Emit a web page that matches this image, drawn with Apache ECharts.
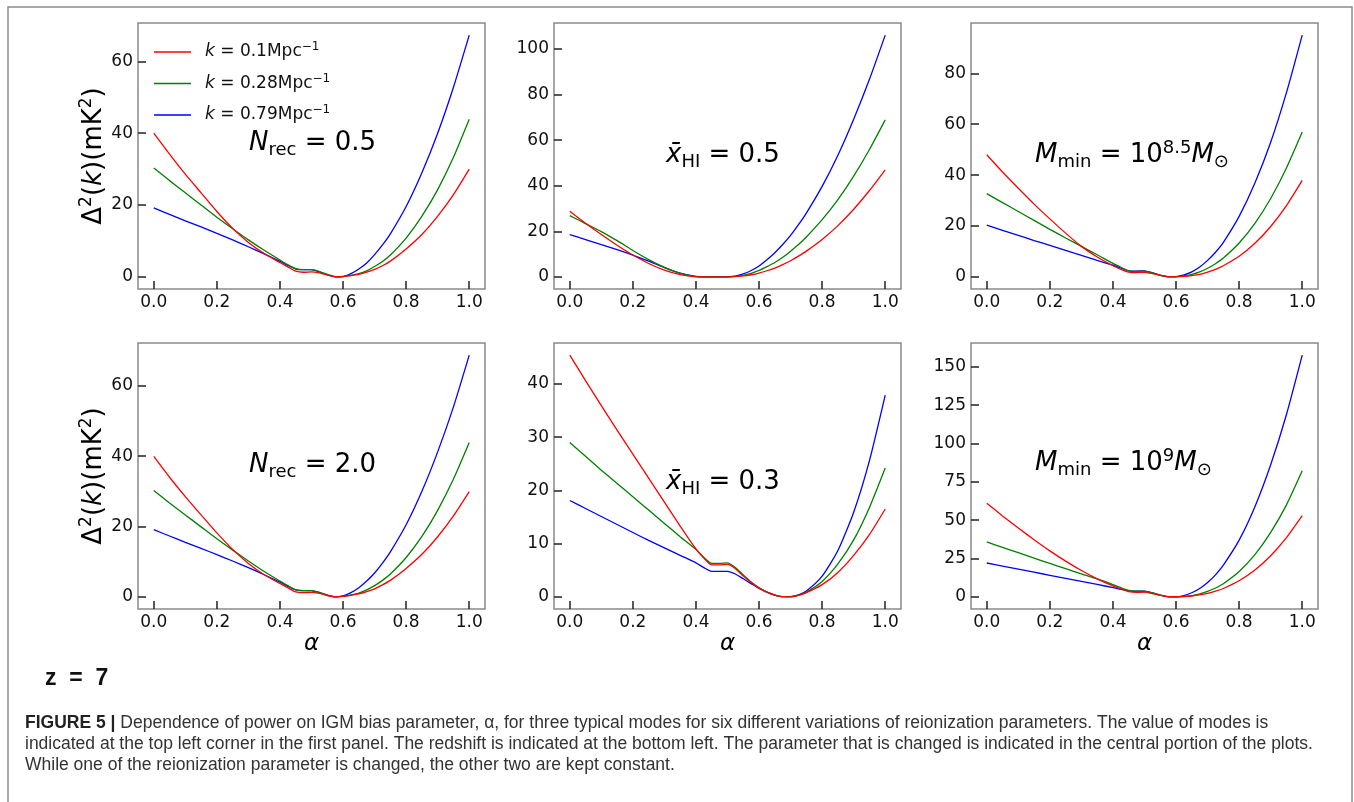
<!DOCTYPE html>
<html>
<head>
<meta charset="utf-8">
<title>Figure 5</title>
<script src="https://cdn.jsdelivr.net/npm/echarts@6/dist/echarts.min.js"></script>
<style>
    html, body { margin: 0; padding: 0; background: #fff; }
    #chart { width: 1354px; height: 802px; }
</style>
</head>
<body>
<div id="chart"></div>
<script>
// α 取样点（横轴）
const alphaValues = [0, 0.05, 0.1, 0.15, 0.2, 0.25, 0.3, 0.35, 0.4, 0.425, 0.45, 0.475, 0.5, 0.525,
    0.55, 0.575, 0.6, 0.625, 0.65, 0.675, 0.7, 0.725, 0.75, 0.8, 0.85, 0.9, 0.95, 1.0]

// 刻度
const xTicks = [0, 0.2, 0.4, 0.6, 0.8, 1.0]
const yTicksNrec05 = [0, 20, 40, 60]
const yTicksXhi05 = [0, 20, 40, 60, 80, 100]
const yTicksMmin85 = [0, 20, 40, 60, 80]
const yTicksNrec20 = [0, 20, 40, 60]
const yTicksXhi03 = [0, 10, 20, 30, 40]
const yTicksMmin9 = [0, 25, 50, 75, 100, 125, 150]

// 三个模式
const modeNames = ['k = 0.1Mpc^-1', 'k = 0.28Mpc^-1', 'k = 0.79Mpc^-1']

// N_rec = 0.5
const nrec05Red = [40.0, 34.2, 28.6, 23.4, 18.2, 13.5, 9.6, 6.5, 4.0, 2.8, 1.6, 1.3, 1.4, 1.1,
    0.5, 0.05, 0.1, 0.35, 0.7, 1.3, 2.1, 3.1, 4.4, 7.8, 11.8, 16.9, 22.9, 30.0]
const nrec05Green = [30.3, 26.8, 23.4, 20.0, 16.6, 13.4, 10.3, 7.4, 4.7, 3.4, 2.3, 2.0, 2.0, 1.5,
    0.7, 0.1, 0.15, 0.45, 0.9, 1.7, 2.9, 4.3, 6.1, 10.8, 16.9, 24.3, 33.3, 43.9]
const nrec05Blue = [19.2, 17.4, 15.6, 13.9, 12.1, 10.3, 8.4, 6.4, 4.3, 3.2, 2.2, 2.0, 2.0, 1.4,
    0.6, 0.05, 0.1, 0.9, 2.2, 3.9, 6.2, 8.9, 12.0, 19.6, 29.0, 40.0, 52.8, 67.3]

// x_HI = 0.5
const xhi05Red = [28.8, 23.5, 18.6, 13.9, 9.6, 5.9, 3.0, 1.0, 0.05, 0, 0, 0, 0.05, 0.15,
    0.41, 0.95, 1.7, 2.7, 3.9, 5.4, 7.1, 9.1, 11.3, 16.4, 22.5, 29.7, 37.9, 47.0]
const xhi05Green = [26.9, 23.4, 19.9, 15.9, 11.6, 7.6, 4.2, 1.6, 0.15, 0, 0, 0, 0.05, 0.2,
    0.72, 1.6, 2.85, 4.5, 6.3, 8.6, 11.3, 14.2, 17.5, 25.1, 33.9, 44.2, 55.9, 68.9]
const xhi05Blue = [18.5, 16.4, 14.2, 12.0, 9.6, 6.9, 4.1, 1.7, 0.25, 0.05, 0, 0, 0.05, 0.35,
    1.3, 2.8, 4.8, 7.5, 10.6, 14.2, 18.2, 22.9, 28.0, 39.7, 53.4, 69.2, 86.7, 106.1]

// M_min = 10^8.5
const mmin85Red = [48.0, 41.2, 34.8, 28.6, 22.8, 17.2, 12.0, 7.8, 4.4, 3.0, 1.9, 1.7, 1.8, 1.3,
    0.6, 0.1, 0.05, 0.18, 0.5, 1.0, 1.9, 3.0, 4.4, 8.1, 13.2, 19.8, 28.0, 37.9]
const mmin85Green = [32.7, 29.2, 25.7, 22.2, 18.7, 15.3, 12.0, 8.7, 5.3, 3.8, 2.4, 2.2, 2.3, 1.6,
    0.7, 0.1, 0.1, 0.37, 1.0, 2.0, 3.4, 5.2, 7.4, 13.3, 21.0, 30.8, 42.8, 56.9]
const mmin85Blue = [20.3, 18.3, 16.3, 14.3, 12.4, 10.4, 8.5, 6.5, 4.6, 3.5, 2.4, 2.3, 2.4, 1.6,
    0.6, 0.05, 0.14, 0.8, 2.0, 3.9, 6.5, 9.7, 13.6, 23.8, 36.9, 52.9, 72.4, 95.0]

// N_rec = 2.0
const nrec20Red = [39.9, 34.0, 28.5, 23.3, 18.2, 13.5, 9.5, 6.3, 3.8, 2.6, 1.4, 1.2, 1.3, 1.0,
    0.4, 0.05, 0.15, 0.45, 0.85, 1.5, 2.3, 3.4, 4.7, 8.1, 12.1, 17.1, 23.0, 29.9]
const nrec20Green = [30.2, 26.7, 23.3, 19.9, 16.5, 13.3, 10.2, 7.2, 4.5, 3.2, 2.0, 1.8, 1.8, 1.3,
    0.5, 0.05, 0.2, 0.6, 1.1, 2.0, 3.2, 4.7, 6.5, 11.2, 17.2, 24.6, 33.5, 43.9]
const nrec20Blue = [19.1, 17.3, 15.5, 13.8, 12.0, 10.2, 8.3, 6.3, 4.2, 3.0, 2.0, 1.8, 1.8, 1.2,
    0.5, 0.05, 0.3, 1.2, 2.6, 4.5, 6.8, 9.6, 12.8, 20.5, 30.0, 41.2, 54.0, 68.7]

// x_HI = 0.3
const xhi03Red = [45.4, 40.6, 35.9, 31.3, 26.8, 22.3, 17.8, 13.3, 9.0, 7.3, 6.0, 6.0, 6.1, 5.3,
    3.9, 2.7, 1.7, 0.9, 0.35, 0.05, 0.02, 0.3, 0.8, 2.3, 4.6, 7.8, 11.7, 16.5]
const xhi03Green = [29.0, 26.4, 23.8, 21.3, 18.8, 16.3, 13.8, 11.3, 8.9, 7.4, 6.3, 6.3, 6.4, 5.5,
    4.1, 2.8, 1.7, 0.9, 0.35, 0.05, 0.06, 0.35, 0.9, 2.9, 6.2, 10.7, 16.8, 24.2]
const xhi03Blue = [18.1, 16.6, 15.1, 13.6, 12.1, 10.6, 9.2, 7.8, 6.4, 5.5, 4.8, 4.8, 4.8, 4.3,
    3.4, 2.5, 1.6, 0.9, 0.35, 0.05, 0.06, 0.4, 1.1, 3.9, 8.7, 15.9, 25.6, 37.9]

// M_min = 10^9
const mmin9Red = [61.1, 52.8, 44.9, 37.3, 30.0, 23.3, 17.2, 11.8, 7.2, 5.3, 3.5, 3.0, 3.1, 2.2,
    1.0, 0.15, 0.1, 0.2, 0.6, 1.3, 2.3, 3.7, 5.5, 10.5, 17.5, 26.8, 38.6, 52.9]
const mmin9Green = [35.8, 32.3, 28.8, 25.3, 21.8, 18.4, 15.0, 11.7, 8.0, 6.0, 4.2, 3.7, 3.8, 2.6,
    1.1, 0.15, 0.1, 0.3, 0.9, 2.0, 3.6, 5.8, 8.6, 16.5, 27.5, 42.0, 60.0, 82.2]
const mmin9Blue = [22.1, 20.1, 18.1, 16.1, 14.1, 12.1, 10.1, 8.1, 6.1, 4.9, 3.9, 3.7, 3.8, 2.6,
    1.1, 0.1, 0.1, 0.9, 2.7, 5.5, 9.4, 14.4, 20.7, 37.0, 58.8, 86.1, 118.9, 157.6]

window.onload = function () {

    const chart = echarts.init(document.getElementById('chart'))

    const colors = ['#ff0000', '#008000', '#0000ff']
    const mathFont = 'DejaVu Sans'

    // 面板布局：左上角位置 + 数据
    const colLeft = [138, 554, 971]
    const rowTop = [23, 343]
    const boxW = 347
    const boxH = 266

    const panels = [
        { col: 0, row: 0, ticks: yTicksNrec05, lines: [nrec05Red, nrec05Green, nrec05Blue] },
        { col: 1, row: 0, ticks: yTicksXhi05, lines: [xhi05Red, xhi05Green, xhi05Blue] },
        { col: 2, row: 0, ticks: yTicksMmin85, lines: [mmin85Red, mmin85Green, mmin85Blue] },
        { col: 0, row: 1, ticks: yTicksNrec20, lines: [nrec20Red, nrec20Green, nrec20Blue] },
        { col: 1, row: 1, ticks: yTicksXhi03, lines: [xhi03Red, xhi03Green, xhi03Blue] },
        { col: 2, row: 1, ticks: yTicksMmin9, lines: [mmin9Red, mmin9Green, mmin9Blue] }
    ]

    // 数学文字样式
    const mathRich = {
        n: { fontFamily: mathFont, fontSize: 26, lineHeight: 32, color: '#000' },
        i: { fontFamily: mathFont, fontSize: 26, lineHeight: 32, fontStyle: 'italic', color: '#000' },
        sub: { fontFamily: mathFont, fontSize: 18, lineHeight: 20, verticalAlign: 'bottom', color: '#000' },
        sup: { fontFamily: mathFont, fontSize: 18, lineHeight: 20, verticalAlign: 'top', color: '#000' }
    }

    const grids = []
    const xAxes = []
    const yAxes = []
    const series = []

    panels.forEach((p, index) => {
        grids.push({
            left: colLeft[p.col],
            top: rowTop[p.row],
            width: boxW,
            height: boxH,
            show: true,
            borderColor: '#8a8a8a',
            borderWidth: 1.5
        })

        xAxes.push({
            type: 'value',
            gridIndex: index,
            min: -0.05,
            max: 1.05,
            axisLine: { show: false, onZero: false },
            splitLine: { show: false },
            axisTick: { inside: true, length: 8, customValues: xTicks, lineStyle: { color: '#222', width: 1.5 } },
            axisLabel: {
                customValues: xTicks,
                margin: 5,
                fontFamily: mathFont,
                fontSize: 17,
                color: '#111',
                formatter: v => v.toFixed(1)
            },
            name: p.row === 1 ? '{i|α}' : '',
            nameLocation: 'middle',
            nameGap: 24,
            nameTextStyle: {
                rich: { i: { fontFamily: mathFont, fontStyle: 'italic', fontSize: 23, color: '#000' } }
            }
        })

        // 与 matplotlib 一样留 5% 边距
        const top = Math.max(...p.lines.map(l => Math.max(...l)))
        yAxes.push({
            type: 'value',
            gridIndex: index,
            min: -0.05 * top,
            max: 1.05 * top,
            axisLine: { show: false, onZero: false },
            splitLine: { show: false },
            axisTick: { inside: true, length: 8, customValues: p.ticks, lineStyle: { color: '#222', width: 1.5 } },
            axisLabel: {
                customValues: p.ticks,
                margin: 5,
                fontFamily: mathFont,
                fontSize: 17,
                color: '#111'
            },
            name: p.col === 0 ? '{n|Δ}{sup|2}{n|(}{i|k}{n|)(mK}{sup|2}{n|)}' : '',
            nameLocation: 'middle',
            nameRotate: 90,
            nameGap: 24,
            nameTextStyle: {
                rich: {
                    n: { fontFamily: mathFont, fontSize: 26, lineHeight: 32, color: '#000' },
                    i: { fontFamily: mathFont, fontSize: 26, lineHeight: 32, fontStyle: 'italic', color: '#000' },
                    sup: { fontFamily: mathFont, fontSize: 17, lineHeight: 18, verticalAlign: 'top', color: '#000' }
                }
            }
        })

        p.lines.forEach((vals, k) => {
            series.push({
                type: 'line',
                name: modeNames[k],
                xAxisIndex: index,
                yAxisIndex: index,
                data: alphaValues.map((a, j) => [a, vals[j]]),
                symbol: 'none',
                smooth: 0.2,
                lineStyle: { color: colors[k], width: 1.3 },
                itemStyle: { color: colors[k] },
                z: 3 - k
            })
        })
    })

    // 图例文字
    const legendText = {}
    legendText[modeNames[0]] = '{i|k}{n| = 0.1Mpc}{sup|−1}'
    legendText[modeNames[1]] = '{i|k}{n| = 0.28Mpc}{sup|−1}'
    legendText[modeNames[2]] = '{i|k}{n| = 0.79Mpc}{sup|−1}'

    // 面板内的参数说明
    const notes = [
        { x: 249, y: 143, text: '{i|N}{sub|rec}{n| = 0.5}' },
        { x: 666, y: 155, text: '{i|x̄}{sub|HI}{n| = 0.5}' },
        { x: 1035, y: 155, text: '{i|M}{sub|min}{n| = 10}{sup|8.5}{i|M}{sub|⊙}' },
        { x: 249, y: 465, text: '{i|N}{sub|rec}{n| = 2.0}' },
        { x: 666, y: 482, text: '{i|x̄}{sub|HI}{n| = 0.3}' },
        { x: 1035, y: 463, text: '{i|M}{sub|min}{n| = 10}{sup|9}{i|M}{sub|⊙}' }
    ]

    const graphics = notes.map(item => ({
        type: 'text',
        x: item.x,
        y: item.y,
        z: 10,
        style: { text: item.text, rich: mathRich, align: 'left', verticalAlign: 'middle' }
    }))

    // 外框
    graphics.push({
        type: 'rect',
        shape: { x: 8, y: 7, width: 1344, height: 830 },
        style: { fill: 'none', stroke: '#8a8a8a', lineWidth: 1.5 },
        silent: true
    })

    // 红移
    graphics.push({
        type: 'text',
        x: 45,
        y: 679,
        style: {
            text: 'z  =  7',
            font: 'bold 23px "Liberation Sans"',
            fill: '#111',
            verticalAlign: 'middle'
        }
    })

    // 图注
    graphics.push({
        type: 'text',
        x: 25,
        y: 713,
        style: {
            text: '{b|FIGURE 5 |}{n| Dependence of power on IGM bias parameter, α, for three typical modes for six different variations of reionization parameters. The value of modes is}\n' +
                '{n|indicated at the top left corner in the first panel. The redshift is indicated at the bottom left. The parameter that is changed is indicated in the central portion of the plots.}\n' +
                '{n|While one of the reionization parameter is changed, the other two are kept constant.}',
            rich: {
                b: { fontFamily: 'Liberation Sans', fontWeight: 'bold', fontSize: 17.5, lineHeight: 21, fill: '#222' },
                n: { fontFamily: 'Liberation Sans', fontSize: 17.5, lineHeight: 21, fill: '#333' }
            },
            verticalAlign: 'top'
        }
    })

    chart.setOption({
        animation: false,
        backgroundColor: '#fff',
        legend: {
            data: modeNames,
            orient: 'vertical',
            left: 154,
            top: 41,
            padding: 0,
            icon: 'rect',
            itemWidth: 37,
            itemHeight: 1.5,
            itemGap: 12,
            formatter: name => legendText[name],
            textStyle: {
                padding: [0, 0, 0, 9],
                rich: {
                    n: { fontFamily: mathFont, fontSize: 17, lineHeight: 22, color: '#111' },
                    i: { fontFamily: mathFont, fontSize: 17, lineHeight: 22, fontStyle: 'italic', color: '#111' },
                    sup: { fontFamily: mathFont, fontSize: 12, lineHeight: 12, verticalAlign: 'top', color: '#111' }
                }
            }
        },
        grid: grids,
        xAxis: xAxes,
        yAxis: yAxes,
        series: series,
        graphic: graphics
    })
}
</script>
</body>
</html>
